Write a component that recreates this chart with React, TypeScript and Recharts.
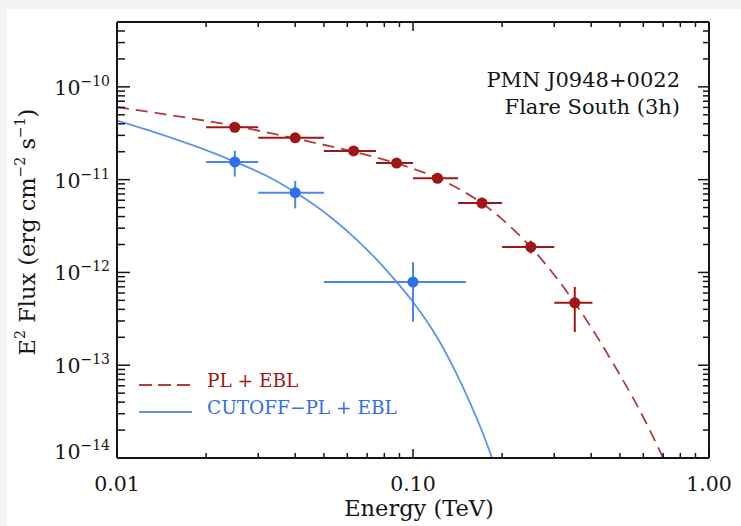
import React from 'react';
import {
  ComposedChart,
  Line,
  Scatter,
  XAxis,
  YAxis,
  ErrorBar,
  Label,
  Customized,
} from 'recharts';

// ---------- data ----------
// PL + EBL fit points (red)
const plEnergy = [0.025, 0.04, 0.063, 0.088, 0.121, 0.171, 0.25, 0.352];
const plEnergyLow = [0.02, 0.03, 0.05, 0.075, 0.1, 0.142, 0.2, 0.3];
const plEnergyHigh = [0.03, 0.05, 0.075, 0.1, 0.142, 0.2, 0.3, 0.404];
const plFlux = [3.67e-11, 2.82e-11, 2.04e-11, 1.51e-11, 1.035e-11, 5.6e-12, 1.88e-12, 4.71e-13];
const plFluxLow = [3.25e-11, 2.5e-11, 1.8e-11, 1.34e-11, 0.92e-11, 4.9e-12, 1.6e-12, 2.28e-13];
const plFluxHigh = [4.15e-11, 3.18e-11, 2.3e-11, 1.7e-11, 1.17e-11, 6.4e-12, 2.2e-12, 7.0e-13];

// CUTOFF-PL + EBL points (blue)
const cpEnergy = [0.025, 0.04, 0.1];
const cpEnergyLow = [0.02, 0.03, 0.05];
const cpEnergyHigh = [0.03, 0.05, 0.151];
const cpFlux = [1.55e-11, 7.24e-12, 7.87e-13];
const cpFluxLow = [1.08e-11, 4.9e-12, 2.94e-13];
const cpFluxHigh = [2.05e-11, 9.7e-12, 1.29e-12];

// model curves
const plCurveEnergy = [0.01, 0.014, 0.025, 0.04, 0.063, 0.088, 0.121, 0.171, 0.2, 0.25, 0.352, 0.474, 0.6, 0.7];
const plCurveFlux = [6.04e-11, 5.15e-11, 3.79e-11, 2.77e-11, 2.0e-11, 1.5e-11, 1.035e-11, 5.56e-12, 3.75e-12, 1.87e-12, 4.71e-13, 1.05e-13, 2.75e-14, 1.0e-14];
const cpCurveEnergy = [0.01, 0.014, 0.019, 0.025, 0.032, 0.04, 0.054, 0.065, 0.075, 0.088, 0.1, 0.12, 0.14, 0.156, 0.17, 0.185];
const cpCurveFlux = [4.33e-11, 3.1e-11, 2.21e-11, 1.56e-11, 1.1e-11, 7.3e-12, 3.7e-12, 2.2e-12, 1.4e-12, 7.9e-13, 4.8e-13, 2.05e-13, 8.2e-14, 3.9e-14, 2.04e-14, 1.0e-14];

// ticks
const xMajorTicks = [0.01, 0.1, 1];
const xMajorLabels = ['0.01', '0.10', '1.00'];
const xMinorTicks = [0.02, 0.03, 0.04, 0.05, 0.06, 0.07, 0.08, 0.09, 0.2, 0.3, 0.4, 0.5, 0.6, 0.7, 0.8, 0.9];
const yMajorTicks = [1e-14, 1e-13, 1e-12, 1e-11, 1e-10];
const yMajorExponents = ['−14', '−13', '−12', '−11', '−10'];
const yMinorTicks = [
  2e-14, 3e-14, 4e-14, 5e-14, 6e-14, 7e-14, 8e-14, 9e-14,
  2e-13, 3e-13, 4e-13, 5e-13, 6e-13, 7e-13, 8e-13, 9e-13,
  2e-12, 3e-12, 4e-12, 5e-12, 6e-12, 7e-12, 8e-12, 9e-12,
  2e-11, 3e-11, 4e-11, 5e-11, 6e-11, 7e-11, 8e-11, 9e-11,
  2e-10, 3e-10, 4e-10, 5e-10,
];

const X_DOMAIN: [number, number] = [0.01, 1];
const Y_DOMAIN: [number, number] = [1e-14, 5e-10];

// ---------- tables built from the arrays ----------
const plPoints = plEnergy.map((x, i) => ({
  x,
  y: plFlux[i],
  ex: [x - plEnergyLow[i], plEnergyHigh[i] - x],
  ey: [plFlux[i] - plFluxLow[i], plFluxHigh[i] - plFlux[i]],
}));
const cpPoints = cpEnergy.map((x, i) => ({
  x,
  y: cpFlux[i],
  ex: [x - cpEnergyLow[i], cpEnergyHigh[i] - x],
  ey: [cpFlux[i] - cpFluxLow[i], cpFluxHigh[i] - cpFlux[i]],
}));
const plCurve = plCurveEnergy.map((x, i) => ({ x, y: plCurveFlux[i] }));
const cpCurve = cpCurveEnergy.map((x, i) => ({ x, y: cpCurveFlux[i] }));

const xTicks = [...xMajorTicks, ...xMinorTicks].sort((a, b) => a - b);
const yTicks = [...yMajorTicks, ...yMinorTicks].sort((a, b) => a - b);

// ---------- styling ----------
const INK = '#151515';
const RED = '#a01616';
const RED_LINE = '#b03c3c';
const BLUE = '#2f6fe8';
const BLUE_BAR = '#4a86ec';
const BLUE_LINE = '#5b93ef';
const FONT = '"DejaVu Serif", serif';

const findIndex = (arr: number[], v: number) =>
  arr.findIndex((a) => Math.abs(a - v) / a < 1e-6);

const BottomTick = (props: any) => {
  const { x, y, payload } = props;
  const mi = findIndex(xMajorTicks, payload.value);
  const major = mi >= 0;
  return (
    <g>
      <line x1={x} x2={x} y1={y} y2={y - (major ? 9 : 5)} stroke={INK} strokeWidth={1.5} />
      {major && (
        <text x={x} y={y + 33} textAnchor="middle" fontFamily={FONT} fontSize={20.5} fill={INK}>
          {xMajorLabels[mi]}
        </text>
      )}
    </g>
  );
};

const TopTick = (props: any) => {
  const { x, y, payload } = props;
  const major = findIndex(xMajorTicks, payload.value) >= 0;
  return <line x1={x} x2={x} y1={y} y2={y + (major ? 9 : 5)} stroke={INK} strokeWidth={1.5} />;
};

const LeftTick = (props: any) => {
  const { x, y, payload } = props;
  const mi = findIndex(yMajorTicks, payload.value);
  const major = mi >= 0;
  const lift = mi === 0 ? 7 : 0;
  return (
    <g>
      <line x1={x} x2={x + (major ? 13 : 8)} y1={y} y2={y} stroke={INK} strokeWidth={1.5} />
      {major && (
        <text x={x - 7} y={y + 8 - lift} textAnchor="end" fontFamily={FONT} fontSize={20.5} fill={INK}>
          <tspan>10</tspan>
          <tspan dy={-9} fontSize={14}>{yMajorExponents[mi]}</tspan>
        </text>
      )}
    </g>
  );
};

const RightTick = (props: any) => {
  const { x, y, payload } = props;
  const major = findIndex(yMajorTicks, payload.value) >= 0;
  return <line x1={x} x2={x - (major ? 11 : 6)} y1={y} y2={y} stroke={INK} strokeWidth={1.5} />;
};

const YTitle = (props: any) => {
  const vb = props.viewBox || { x: 0, y: 22, width: 117, height: 436 };
  const cx = vb.x + 35;
  const cy = vb.y + vb.height / 2 - 8;
  return (
    <text
      x={cx}
      y={cy}
      transform={`rotate(-90 ${cx} ${cy})`}
      textAnchor="middle"
      fontFamily={FONT}
      fontSize={22.5}
      fill={INK}
    >
      <tspan>E</tspan>
      <tspan dy={-10} fontSize={14}>2</tspan>
      <tspan dy={10}> Flux (erg cm</tspan>
      <tspan dy={-10} fontSize={14}>−2</tspan>
      <tspan dy={10}> s</tspan>
      <tspan dy={-10} fontSize={14}>−1</tspan>
      <tspan dy={10}>)</tspan>
    </text>
  );
};

const XTitle = (props: any) => {
  const vb = props.viewBox || { x: 117, y: 458, width: 592, height: 68 };
  return (
    <text
      x={vb.x + vb.width / 2 + 6}
      y={vb.y + 58}
      textAnchor="middle"
      fontFamily={FONT}
      fontSize={22.5}
      fill={INK}
    >
      Energy (TeV)
    </text>
  );
};

const Annotations = () => (
  <g fontFamily={FONT}>
    <text x={680} y={87} textAnchor="end" fontSize={21} fill={INK}>PMN J0948+0022</text>
    <text x={680} y={114} textAnchor="end" fontSize={21} fill={INK}>Flare South (3h)</text>
    <line x1={139} x2={192} y1={385} y2={385} stroke={RED_LINE} strokeWidth={1.8} strokeDasharray="13 6" />
    <text x={207} y={387} fontSize={18.5} fill={RED}>PL + EBL</text>
    <line x1={139} x2={192} y1={412} y2={412} stroke={BLUE_LINE} strokeWidth={1.8} />
    <text x={207} y={414} fontSize={18.5} fill={BLUE}>CUTOFF−PL + EBL</text>
  </g>
);

const Dot = (color: string) => (p: any) =>
  p.cx == null ? <g /> : <circle cx={p.cx} cy={p.cy} r={5.5} fill={color} />;

export default function App() {
  return (
    <div style={{ position: 'absolute', left: 0, top: 0, width: 741, height: 526, background: '#f3f3f3', overflow: 'hidden' }}>
      <div style={{ position: 'absolute', left: 7, top: 9, right: 0, bottom: 0, background: '#ffffff' }} />
      <div style={{ position: 'absolute', left: 0, top: 0 }}>
        <ComposedChart width={741} height={526} margin={{ top: 0, right: 0, bottom: 0, left: 0 }}>
          <XAxis
            xAxisId="b"
            dataKey="x"
            type="number"
            scale="log"
            domain={X_DOMAIN}
            allowDataOverflow
            ticks={xTicks}
            interval={0}
            tick={<BottomTick />}
            tickSize={0}
            tickMargin={0}
            tickLine={false}
            axisLine={{ stroke: INK, strokeWidth: 2 }}
            height={68}
            orientation="bottom"
          >
            <Label content={<XTitle />} />
          </XAxis>
          <XAxis
            xAxisId="t"
            dataKey="x"
            type="number"
            scale="log"
            domain={X_DOMAIN}
            allowDataOverflow
            ticks={xTicks}
            interval={0}
            tick={<TopTick />}
            tickSize={0}
            tickMargin={0}
            tickLine={false}
            axisLine={{ stroke: INK, strokeWidth: 2 }}
            height={22}
            orientation="top"
          />
          <YAxis
            yAxisId="l"
            dataKey="y"
            type="number"
            scale="log"
            domain={Y_DOMAIN}
            allowDataOverflow
            ticks={yTicks}
            interval={0}
            tick={<LeftTick />}
            tickSize={0}
            tickMargin={0}
            tickLine={false}
            axisLine={{ stroke: INK, strokeWidth: 2 }}
            width={117}
            orientation="left"
          >
            <Label content={<YTitle />} />
          </YAxis>
          <YAxis
            yAxisId="r"
            dataKey="y"
            type="number"
            scale="log"
            domain={Y_DOMAIN}
            allowDataOverflow
            ticks={yTicks}
            interval={0}
            tick={<RightTick />}
            tickSize={0}
            tickMargin={0}
            tickLine={false}
            axisLine={{ stroke: INK, strokeWidth: 2 }}
            width={32}
            orientation="right"
          />

          <Line
            xAxisId="b"
            yAxisId="l"
            data={plCurve}
            dataKey="y"
            type="monotone"
            stroke={RED_LINE}
            strokeWidth={1.8}
            strokeDasharray="12 7"
            dot={false}
            activeDot={false}
            isAnimationActive={false}
          />
          <Line
            xAxisId="b"
            yAxisId="l"
            data={cpCurve}
            dataKey="y"
            type="monotone"
            stroke={BLUE_LINE}
            strokeWidth={1.8}
            dot={false}
            activeDot={false}
            isAnimationActive={false}
          />

          <Scatter
            xAxisId="b"
            yAxisId="l"
            data={plPoints}
            dataKey="y"
            fill={RED}
            shape={Dot(RED)}
            isAnimationActive={false}
          >
            <ErrorBar dataKey="ex" direction="x" width={0} stroke={RED} strokeWidth={2} />
            <ErrorBar dataKey="ey" direction="y" width={0} stroke={RED} strokeWidth={2} />
          </Scatter>
          <Scatter
            xAxisId="b"
            yAxisId="l"
            data={cpPoints}
            dataKey="y"
            fill={BLUE}
            shape={Dot(BLUE)}
            isAnimationActive={false}
          >
            <ErrorBar dataKey="ex" direction="x" width={0} stroke={BLUE_BAR} strokeWidth={2} />
            <ErrorBar dataKey="ey" direction="y" width={0} stroke={BLUE_BAR} strokeWidth={2} />
          </Scatter>

          <Customized component={<Annotations />} />
        </ComposedChart>
      </div>
    </div>
  );
}
